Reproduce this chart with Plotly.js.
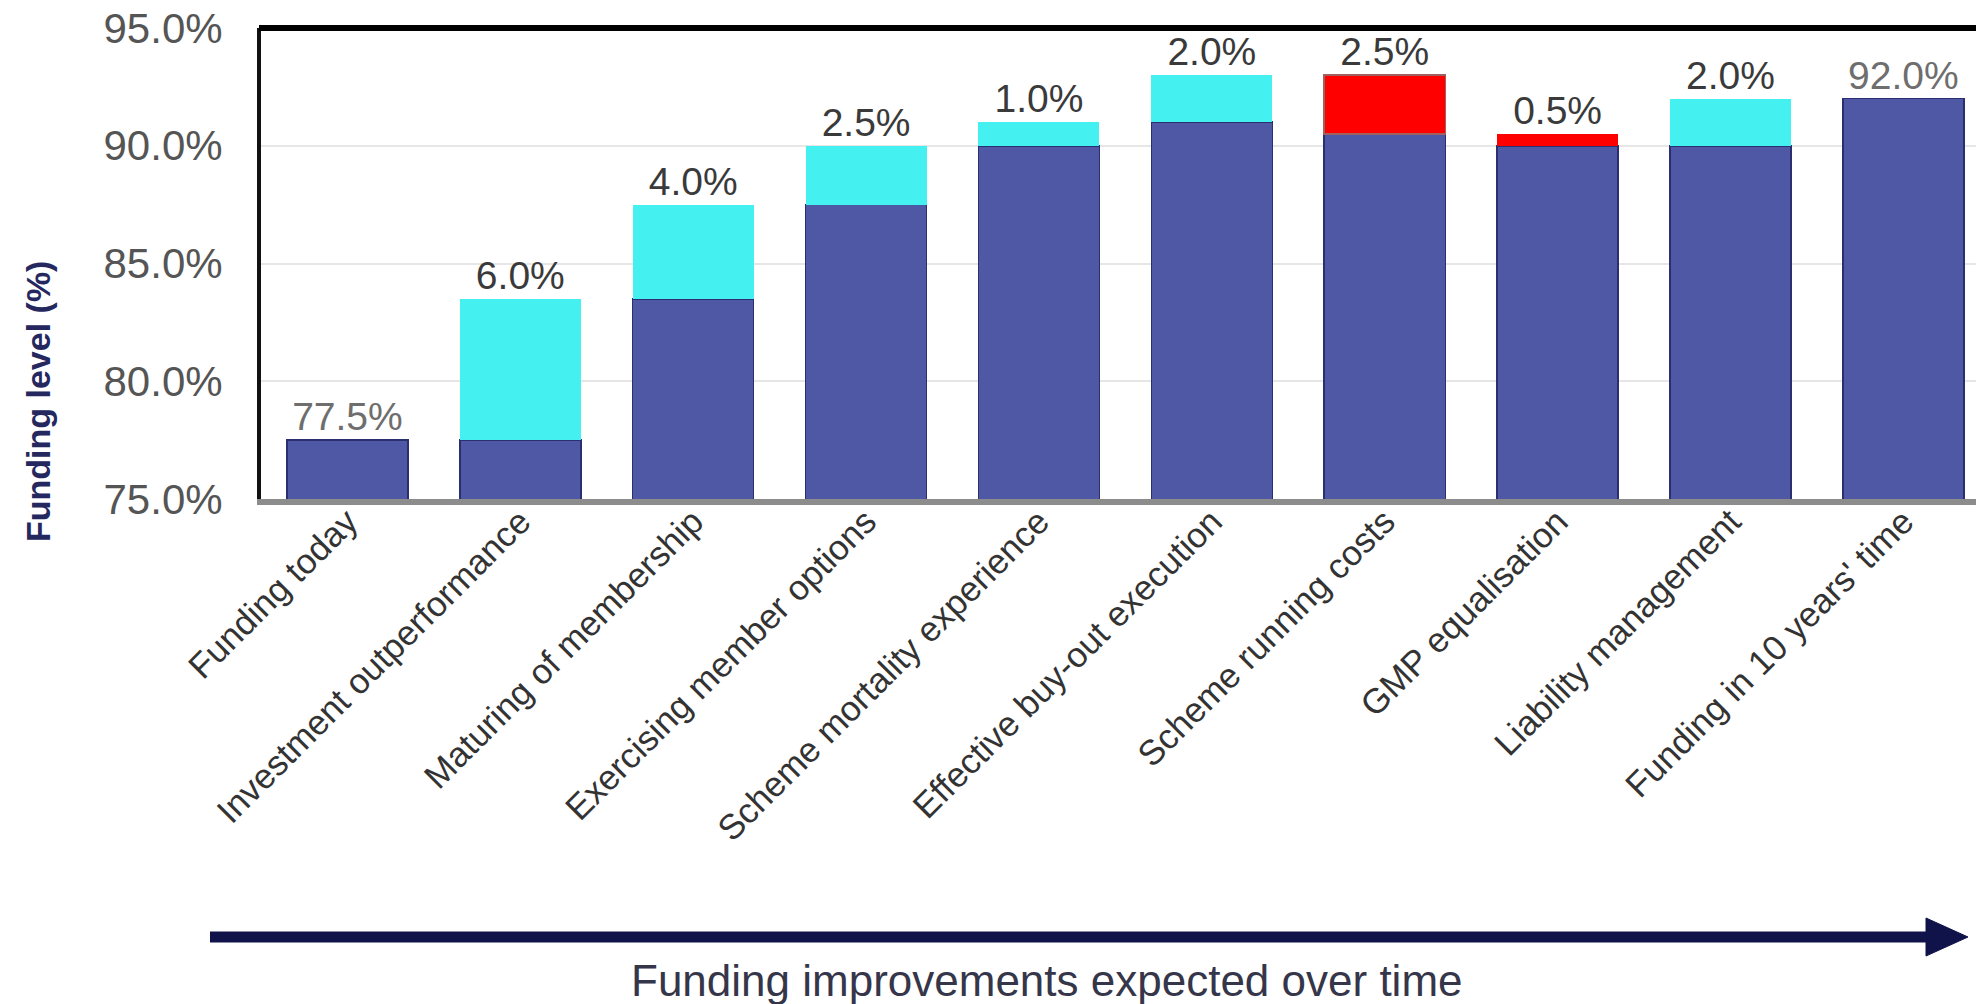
<!DOCTYPE html>
<html>
<head>
<meta charset="utf-8">
<script src="https://cdn.plot.ly/plotly-3.0.1.min.js"></script>
<style>html,body{margin:0;padding:0;background:#fff;}#chart{width:1976px;height:1004px;}</style>
</head>
<body>
<div id="chart"></div>
<script>
// ---- data ----
const categories = [
  "Funding today",
  "Investment outperformance",
  "Maturing of membership",
  "Exercising member options",
  "Scheme mortality experience",
  "Effective buy-out execution",
  "Scheme running costs",
  "GMP equalisation",
  "Liability management",
  "Funding in 10 years' time"
];
const baseLevel = [77.5, 77.5, 83.5, 87.5, 90.0, 91.0, 90.5, 90.0, 90.0, 92.0];
const increases = [0, 6.0, 4.0, 2.5, 1.0, 2.0, 0, 0, 2.0, 0];
const decreases = [0, 0, 0, 0, 0, 0, 2.5, 0.5, 0, 0];
const valueLabels = ["77.5%", "6.0%", "4.0%", "2.5%", "1.0%", "2.0%", "2.5%", "0.5%", "2.0%", "92.0%"];
const isTotal = [true, false, false, false, false, false, false, false, false, true];
const yTickVals = [75, 80, 85, 90, 95];
const yTickText = ["75.0%", "80.0%", "85.0%", "90.0%", "95.0%"];

// ---- chart ----
const FONT = "Liberation Sans, Arial, Helvetica, sans-serif";
const tops = baseLevel.map((b, i) => b + increases[i] + decreases[i]);

const W = 1976, H = 1004;
const L = 261, R = 0, T = 28, B = 505;
const pw = W - L - R, ph = H - T - B;
const px = x => (x - L) / pw;
const py = y => (H - B - y) / ph;

const traces = [
  {
    type: "bar", x: categories, y: baseLevel, name: "Funding level",
    marker: {color: "#4f58a4", line: {color: "#2b2f70", width: 1.5}},
    hoverinfo: "skip"
  },
  {
    type: "bar", x: categories, y: increases, name: "Improvement",
    marker: {color: "#45f0f0", line: {width: 0}},
    hoverinfo: "skip"
  },
  {
    type: "bar", x: categories, y: decreases, name: "Deterioration",
    marker: {color: "#ff0000", line: {color: "#a06060", width: decreases.map(d => d > 1 ? 1.5 : 0)}},
    hoverinfo: "skip"
  },
  {
    type: "scatter", mode: "text", x: categories, y: tops, text: valueLabels,
    textposition: "top center", cliponaxis: false,
    textfont: {family: FONT, size: 39, color: isTotal.map(t => t ? "#6e6e6e" : "#3a3a3a")},
    hoverinfo: "skip"
  }
];

const layout = {
  width: W, height: H,
  margin: {l: L, r: R, t: T, b: B},
  paper_bgcolor: "#ffffff", plot_bgcolor: "#ffffff",
  barmode: "stack", bargap: 0.3, showlegend: false,
  font: {family: FONT, color: "#444"},
  xaxis: {
    range: [-0.5, 9.42], tickangle: -45, automargin: false,
    tickfont: {family: FONT, size: 35, color: "#333"},
    ticklabelstandoff: -18,
    showline: true, linecolor: "#8c8c8c", linewidth: 6,
    showgrid: false, zeroline: false, ticks: ""
  },
  yaxis: {
    range: [75, 95], tickvals: yTickVals, ticktext: yTickText,
    tickfont: {family: FONT, size: 42, color: "#555"},
    ticklabelstandoff: 26, automargin: false,
    showline: true, linecolor: "#111", linewidth: 4,
    showgrid: true, gridcolor: "#e6e6e6", gridwidth: 2, zeroline: false, ticks: ""
  },
  shapes: [
    {type: "line", xref: "paper", yref: "paper", x0: px(L - 2), x1: 1, y0: 1, y1: 1,
     line: {color: "#000", width: 6}},
    {type: "line", xref: "paper", yref: "paper", x0: px(210), x1: px(1932), y0: py(937), y1: py(937),
     line: {color: "#10124a", width: 11}},
    {type: "path", xref: "paper", yref: "paper",
     path: `M ${px(1926)} ${py(918)} L ${px(1968)} ${py(937)} L ${px(1926)} ${py(956)} Z`,
     fillcolor: "#10124a", line: {color: "#10124a", width: 1}}
  ],
  annotations: [
    {xref: "paper", yref: "paper", x: px(38), y: py(401), text: "<b>Funding level (%)</b>",
     textangle: -90, showarrow: false, xanchor: "center", yanchor: "middle",
     font: {family: FONT, size: 34, color: "#25285e"}},
    {xref: "paper", yref: "paper", x: px(1047), y: py(980), text: "Funding improvements expected over time",
     showarrow: false, xanchor: "center", yanchor: "middle",
     font: {family: FONT, size: 44, color: "#35364a"}}
  ]
};

Plotly.newPlot("chart", traces, layout, {displayModeBar: false, staticPlot: true});
</script>
</body>
</html>
